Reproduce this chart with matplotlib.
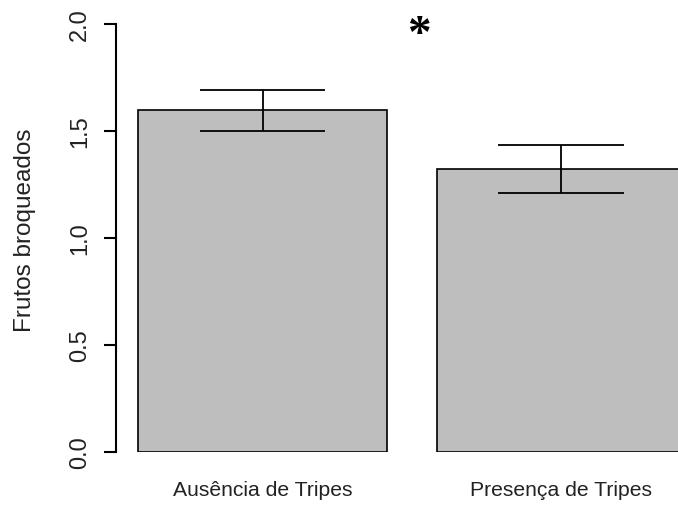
import matplotlib
matplotlib.use("Agg")
import matplotlib.pyplot as plt
import numpy as np

categories = ["Ausência de Tripes", "Presença de Tripes"]
means = [1.597, 1.322]
se = [0.096, 0.113]
yticks = [0.0, 0.5, 1.0, 1.5, 2.0]
ytick_labels = ["0.0", "0.5", "1.0", "1.5", "2.0"]
ylabel = "Frutos broqueados"
signif = "*"

plt.rcParams['font.family'] = ['Liberation Sans', 'DejaVu Sans']

W, H = 678, 506
fig = plt.figure(figsize=(W / 100, H / 100), dpi=100)

# axes in pixel layout
ax_left, ax_right = 116, 678
y0_px, y2_px = 453, 25
ax = fig.add_axes([ax_left / W, (H - y0_px) / H, (ax_right - ax_left) / W, (y0_px - y2_px) / H])

px_per_unit = 249.0
x0_px = 88.2
ax.set_xlim((ax_left - x0_px) / px_per_unit, (ax_right - x0_px) / px_per_unit)
ax.set_ylim(0, 2)

xpos = np.array([0.7, 1.9])
ax.bar(xpos, means, width=1.0, color="#bebebe", edgecolor="black", linewidth=1.2, zorder=2)

m = np.array(means)
s = np.array(se)
cap_half = 0.253
ax.vlines(xpos, m - s, m + s, color="black", linewidth=1.3, zorder=3)
ax.hlines(m + s, xpos - cap_half, xpos + cap_half, color="black", linewidth=1.3, zorder=3)
ax.hlines(m - s, xpos - cap_half, xpos + cap_half, color="black", linewidth=1.3, zorder=3)

for sp in ["top", "right", "bottom"]:
    ax.spines[sp].set_visible(False)
ax.spines["left"].set_bounds(0, 2)
ax.spines["left"].set_linewidth(1.5)

ax.set_yticks(yticks)
ax.set_yticklabels(ytick_labels, rotation=90, va="center", fontsize=17, color="#222222")
ax.tick_params(axis="y", length=8.6, width=1.5, pad=9.5)

ax.set_xticks(xpos)
ax.set_xticklabels(categories, fontsize=15.2, color="#222222")
ax.tick_params(axis="x", length=0, pad=20.5)

fig.text(25 / W, 1 - 230 / H, ylabel, rotation=90, ha="center", va="center", fontsize=17.5, color="#222222")

ax.text(1.328, 1.95, signif, ha="center", va="center", fontsize=34, fontweight="bold",
        family=["Liberation Serif", "DejaVu Serif"], color="black", clip_on=False)

fig.savefig("out.png", dpi=100)
